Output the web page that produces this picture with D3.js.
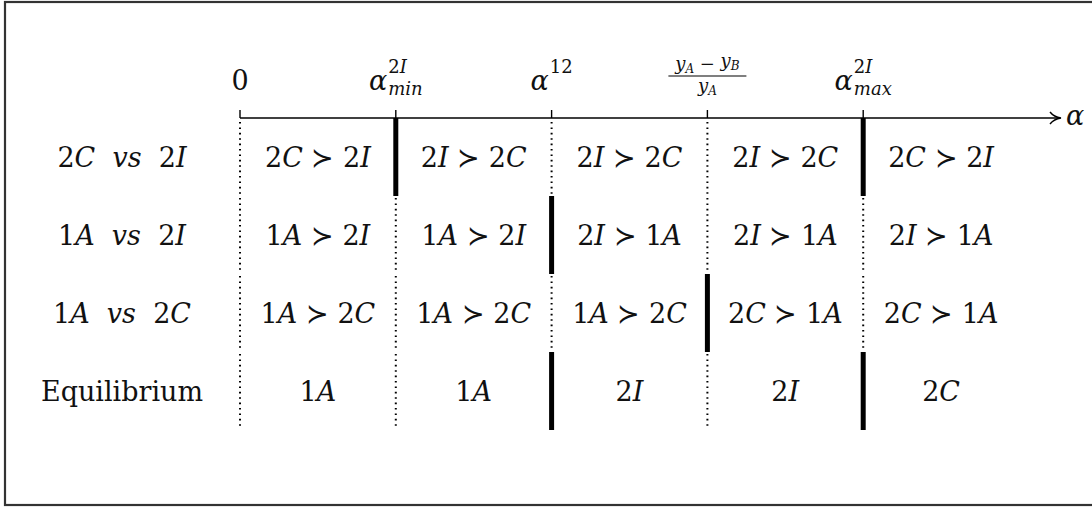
<!DOCTYPE html>
<html>
<head>
<meta charset="utf-8">
<script src="https://cdn.jsdelivr.net/npm/d3@7"></script>
<style>
  body { margin: 0; background: #fff; }
  text { fill: #111; white-space: pre; }
</style>
</head>
<body>
<script>
// Canvas size
var width = 1092;
var height = 508;
var serif = "'DejaVu Serif', serif";

// Rows of the table
var rowLabels = ["2C  vs  2I", "1A  vs  2I", "1A  vs  2C", "Equilibrium"];

// Contents of each cell, one entry per interval of alpha
var cells = [
  ["2C ≻ 2I", "2I ≻ 2C", "2I ≻ 2C", "2I ≻ 2C", "2C ≻ 2I"],
  ["1A ≻ 2I", "1A ≻ 2I", "2I ≻ 1A", "2I ≻ 1A", "2I ≻ 1A"],
  ["1A ≻ 2C", "1A ≻ 2C", "1A ≻ 2C", "2C ≻ 1A", "2C ≻ 1A"],
  ["1A", "1A", "2I", "2I", "2C"]
];

// Which tick positions get a thick separator in each row
var thick = [[1, 4], [2], [3], [2, 4]];

// Tick labels on the alpha axis
var tickBase = ["0", "α", "α", null, "α"];
var tickSup = ["", "2I", "12", "", "2I"];
var tickSub = ["", "min", "", "", "max"];
var fracNum = ["y", "A", " − ", "y", "B"];
var fracDen = ["y", "A"];

var svg = d3.select("body")
            .append("svg")
            .attr("width", width)
            .attr("height", height)
            .attr("font-family", serif);

// Frame
svg.append("rect")
   .attr("x", 5).attr("y", 2)
   .attr("width", width + 10).attr("height", 503)
   .attr("fill", "none")
   .attr("stroke", "#333")
   .attr("stroke-width", 2.2);

// Scales
var x = d3.scaleLinear().domain([0, 5]).range([240, 1019]);
var y = d3.scaleBand().domain(d3.range(rowLabels.length)).range([118, 430]);
var axisY = 118;

// write a math-ish string: letters italic, digits and symbols upright
function mathText(sel, str, upright) {
  var parts = str.match(/[A-Za-z]+|[^A-Za-z]+/g);
  parts.forEach(function(p) {
    var isWord = /[A-Za-z]/.test(p);
    sel.append("tspan")
       .attr("font-style", (isWord && !upright) ? "italic" : "normal")
       .text(p);
  });
}

// Axis line with arrow
svg.append("line")
   .attr("x1", x(0)).attr("x2", 1058)
   .attr("y1", axisY).attr("y2", axisY)
   .attr("stroke", "#000").attr("stroke-width", 1.4);
svg.append("path")
   .attr("d", "M1050,112 Q1054,117 1061,118 Q1054,119 1050,124")
   .attr("fill", "none").attr("stroke", "#000").attr("stroke-width", 1.4);
svg.append("text")
   .attr("x", 1066).attr("y", 125)
   .attr("font-size", 27).attr("font-style", "italic")
   .text("α");

// Tick marks
svg.selectAll(".tick")
   .data(d3.range(5))
   .enter()
   .append("line")
   .attr("class", "tick")
   .attr("x1", function(d) { return x(d); })
   .attr("x2", function(d) { return x(d); })
   .attr("y1", axisY - 8).attr("y2", axisY)
   .attr("stroke", "#000").attr("stroke-width", 1.4);

// Tick labels: base, then sup/sub stacked after it, then centred on the tick
var tl = svg.selectAll(".tl")
            .data(d3.range(5).filter(function(i) { return tickBase[i] !== null; }))
            .enter()
            .append("g")
            .attr("class", "tl");
tl.each(function(i) {
  var g = d3.select(this);
  var base = g.append("text")
              .attr("x", 0).attr("y", 90)
              .attr("font-size", 27)
              .attr("font-style", tickBase[i] === "0" ? "normal" : "italic")
              .text(tickBase[i]);
  var bw = base.node().getComputedTextLength();
  var w = bw;
  if (tickSup[i]) {
    var sup = g.append("text").attr("x", bw + 1).attr("y", 73).attr("font-size", 18);
    mathText(sup, tickSup[i]);
    w = Math.max(w, bw + 1 + sup.node().getComputedTextLength());
  }
  if (tickSub[i]) {
    var sub = g.append("text").attr("x", bw + 1).attr("y", 95)
               .attr("font-size", 18).attr("font-style", "italic")
               .text(tickSub[i]);
    w = Math.max(w, bw + 1 + sub.node().getComputedTextLength());
  }
  g.attr("transform", "translate(" + (x(i) - w / 2) + ",0)");
});

// Fraction label
var fx = x(3);
var num = svg.append("text")
             .attr("x", fx).attr("y", 70)
             .attr("text-anchor", "middle")
             .attr("font-size", 18);
fracNum.forEach(function(p, k) {
  var isSub = (p === "A" || p === "B");
  num.append("tspan")
     .attr("font-style", p === " − " ? "normal" : "italic")
     .attr("font-size", isSub ? 12 : 18)
     .attr("dy", isSub ? 3 : (k > 0 ? -3 : 0))
     .text(p);
});
svg.append("line")
   .attr("x1", fx - 39).attr("x2", fx + 39)
   .attr("y1", 76).attr("y2", 76)
   .attr("stroke", "#000").attr("stroke-width", 1.1);
var den = svg.append("text")
             .attr("x", fx).attr("y", 92)
             .attr("text-anchor", "middle")
             .attr("font-size", 18);
fracDen.forEach(function(p, k) {
  den.append("tspan")
     .attr("font-style", "italic")
     .attr("font-size", k ? 12 : 18)
     .attr("dy", k ? 3 : 0)
     .text(p);
});

// Separators: thick or dotted, per row and per tick
var seps = [];
rowLabels.forEach(function(r, ri) {
  d3.range(5).forEach(function(ti) {
    seps.push({ row: ri, tick: ti, thick: thick[ri].indexOf(ti) >= 0 });
  });
});

svg.selectAll(".sep")
   .data(seps)
   .enter()
   .append("line")
   .attr("class", "sep")
   .attr("x1", function(d) { return x(d.tick); })
   .attr("x2", function(d) { return x(d.tick); })
   .attr("y1", function(d) { return d.row === 0 ? (d.thick ? axisY : axisY + 4) : y(d.row) + (d.thick ? 0 : 2); })
   .attr("y2", function(d) { return y(d.row) + y.bandwidth() - (d.thick ? 0 : 2); })
   .attr("stroke", "#000")
   .attr("stroke-width", function(d) { return d.thick ? 5 : 2; })
   .attr("stroke-dasharray", function(d) { return d.thick ? null : "1.6,3.8"; });

// Row labels
svg.selectAll(".rl")
   .data(rowLabels)
   .enter()
   .append("text")
   .attr("class", "rl")
   .attr("x", 122)
   .attr("y", function(d, i) { return y(i) + y.bandwidth() / 2 + 10; })
   .attr("text-anchor", "middle")
   .attr("font-size", 27)
   .each(function(d) { mathText(d3.select(this), d, d.length > 10); });

// Cell contents
var cellData = [];
cells.forEach(function(row, ri) {
  row.forEach(function(c, ci) { cellData.push({ row: ri, col: ci, text: c }); });
});

svg.selectAll(".cell")
   .data(cellData)
   .enter()
   .append("text")
   .attr("class", "cell")
   .attr("x", function(d) { return x(d.col + 0.5); })
   .attr("y", function(d) { return y(d.row) + y.bandwidth() / 2 + 10; })
   .attr("text-anchor", "middle")
   .attr("font-size", 27)
   .each(function(d) { mathText(d3.select(this), d.text, false); });
</script>
</body>
</html>
